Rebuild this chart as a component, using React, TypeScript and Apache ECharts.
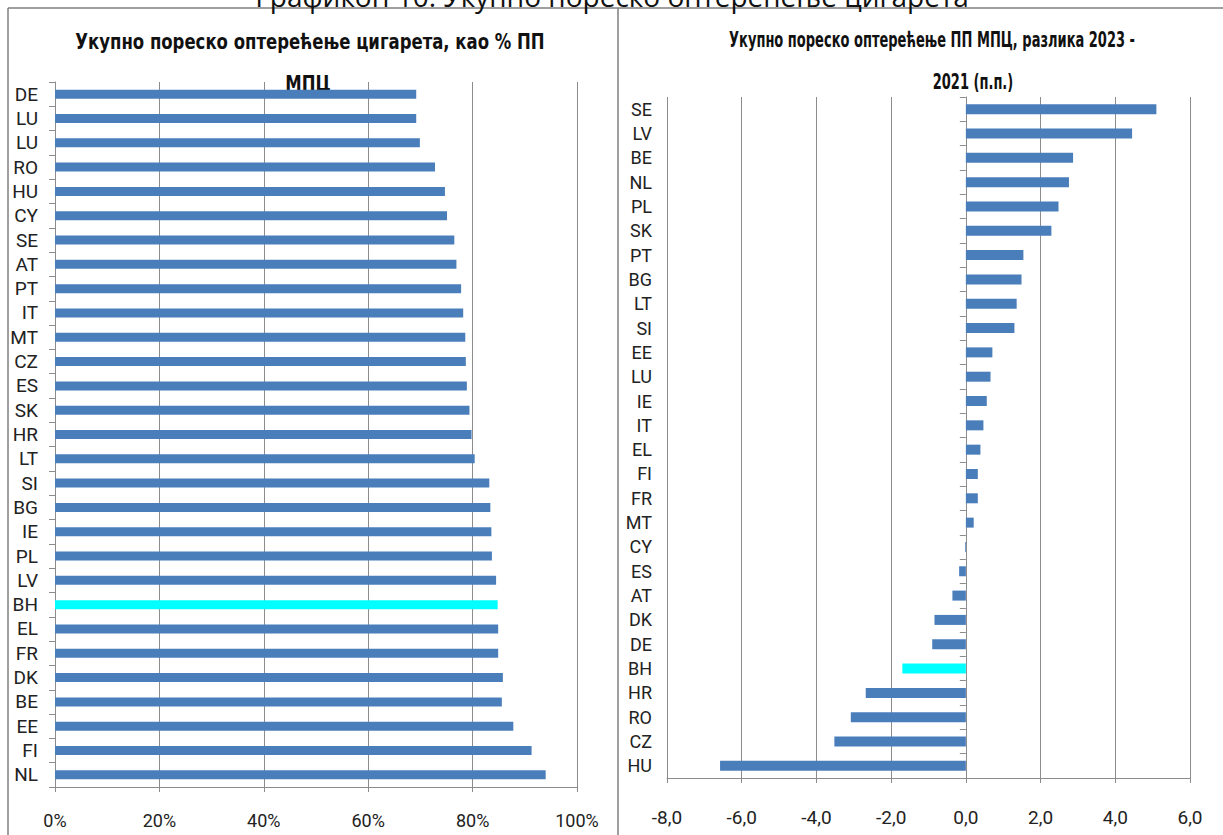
import React, { useEffect, useRef } from 'react';
import * as echarts from 'echarts';

const pageCaption = 'Графикон 10: Укупно пореско оптерећење цигарета';
const leftTitleLines = ['Укупно пореско оптерећење цигарета, као % ПП', 'МПЦ'];
const rightTitleLines = ['Укупно пореско оптерећење ПП МПЦ, разлика 2023 -', '2021 (п.п.)'];

const leftCategories = ['DE', 'LU', 'LU', 'RO', 'HU', 'CY', 'SE', 'AT', 'PT', 'IT', 'MT', 'CZ', 'ES', 'SK', 'HR', 'LT', 'SI', 'BG', 'IE', 'PL', 'LV', 'BH', 'EL', 'FR', 'DK', 'BE', 'EE', 'FI', 'NL'];
const leftValues = [69.2, 69.2, 69.9, 72.8, 74.7, 75.1, 76.5, 76.9, 77.8, 78.2, 78.6, 78.7, 78.9, 79.4, 79.8, 80.4, 83.2, 83.4, 83.6, 83.7, 84.5, 84.8, 84.9, 84.9, 85.8, 85.6, 87.8, 91.3, 94.0];

const rightCategories = ['SE', 'LV', 'BE', 'NL', 'PL', 'SK', 'PT', 'BG', 'LT', 'SI', 'EE', 'LU', 'IE', 'IT', 'EL', 'FI', 'FR', 'MT', 'CY', 'ES', 'AT', 'DK', 'DE', 'BH', 'HR', 'RO', 'CZ', 'HU'];
const rightValues = [5.10, 4.45, 2.87, 2.76, 2.48, 2.29, 1.54, 1.49, 1.36, 1.30, 0.71, 0.66, 0.56, 0.47, 0.39, 0.32, 0.32, 0.21, -0.02, -0.18, -0.36, -0.84, -0.90, -1.70, -2.68, -3.08, -3.52, -6.58];

const leftTickLabels = ['0%', '20%', '40%', '60%', '80%', '100%'];
const rightTickLabels = ['-8,0', '-6,0', '-4,0', '-2,0', '0,0', '2,0', '4,0', '6,0'];

const highlightCategory = 'BH';

const LABEL_FONT = 'Roboto, "Liberation Sans", sans-serif';
const TITLE_FONT = '"DejaVu Sans", sans-serif';
const BLUE = '#4a7ebb';
const CYAN = '#00ffff';
const GRID_COLOR = '#8c8c8c';
const BORDER_COLOR = '#7f7f7f';

function buildOption(): echarts.EChartsOption {
  const colorFor = (cat: string) => (cat === highlightCategory ? CYAN : BLUE);
  const titleText = (text: string, x: number, y: number, size: number, scaleX: number) => ({
    type: 'text',
    x,
    y,
    scaleX,
    style: {
      text,
      font: `bold ${size}px ${TITLE_FONT}`,
      fill: '#111',
      textAlign: 'center',
      textVerticalAlign: 'middle',
    },
  });
  return {
    animation: false,
    backgroundColor: '#ffffff',
    grid: [
      { left: 55, top: 82, width: 522, height: 705, containLabel: false },
      { left: 667, top: 97, width: 523, height: 681, containLabel: false },
    ],
    xAxis: [
      {
        gridIndex: 0,
        type: 'value',
        min: 0,
        max: 100,
        interval: 20,
        axisLine: { show: true, lineStyle: { color: GRID_COLOR, width: 1 } },
        axisTick: { show: true, length: 5, lineStyle: { color: GRID_COLOR } },
        splitLine: { show: true, lineStyle: { color: GRID_COLOR, width: 1 } },
        axisLabel: {
          fontSize: 18,
          fontFamily: LABEL_FONT,
          color: '#222',
          margin: 24,
          formatter: (v: number) => leftTickLabels[Math.round(v / 20)] ?? '',
        },
      },
      {
        gridIndex: 1,
        type: 'value',
        min: -8,
        max: 6,
        interval: 2,
        axisLine: { show: true, onZero: false, lineStyle: { color: GRID_COLOR, width: 1 } },
        axisTick: { show: true, length: 5, lineStyle: { color: GRID_COLOR } },
        splitLine: { show: true, lineStyle: { color: GRID_COLOR, width: 1 } },
        axisLabel: {
          fontSize: 19,
          fontFamily: LABEL_FONT,
          color: '#222',
          margin: 30,
          formatter: (v: number) => rightTickLabels[Math.round((v + 8) / 2)] ?? '',
        },
      },
    ],
    yAxis: [
      {
        gridIndex: 0,
        type: 'category',
        data: leftCategories,
        inverse: true,
        axisLine: { show: true, onZero: false, lineStyle: { color: GRID_COLOR, width: 1 } },
        axisTick: { show: true, length: 6, lineStyle: { color: GRID_COLOR } },
        axisLabel: { interval: 0, fontSize: 19, fontFamily: LABEL_FONT, color: '#222', margin: 17 },
      },
      {
        gridIndex: 1,
        type: 'category',
        data: rightCategories,
        inverse: true,
        position: 'left',
        axisLine: { show: false, onZero: false },
        axisTick: { show: false },
        axisLabel: { interval: 0, fontSize: 18, fontFamily: LABEL_FONT, color: '#222', margin: 15 },
      },
      {
        gridIndex: 1,
        type: 'category',
        data: rightCategories,
        inverse: true,
        position: 'left',
        axisLine: { show: true, onZero: true, lineStyle: { color: GRID_COLOR, width: 1 } },
        axisTick: { show: true, length: 6, lineStyle: { color: GRID_COLOR } },
        axisLabel: { show: false },
      },
    ],
    series: [
      {
        type: 'bar',
        xAxisIndex: 0,
        yAxisIndex: 0,
        barWidth: 9,
        data: leftValues.map((v, i) => ({ value: v, itemStyle: { color: colorFor(leftCategories[i]) } })),
      },
      {
        type: 'bar',
        xAxisIndex: 1,
        yAxisIndex: 1,
        barWidth: 10,
        data: rightValues.map((v, i) => ({ value: v, itemStyle: { color: colorFor(rightCategories[i]) } })),
      },
    ],
    graphic: [
      { type: 'line', shape: { x1: 8, y1: 8, x2: 1223, y2: 8 }, style: { stroke: BORDER_COLOR, lineWidth: 1.5 } },
      { type: 'line', shape: { x1: 8, y1: 8, x2: 8, y2: 835 }, style: { stroke: BORDER_COLOR, lineWidth: 1.5 } },
      { type: 'line', shape: { x1: 618, y1: 8, x2: 618, y2: 835 }, style: { stroke: BORDER_COLOR, lineWidth: 1.5 } },
      {
        type: 'text',
        x: 612,
        y: -4,
        style: {
          text: pageCaption,
          font: '28px "Open Sans", "Noto Sans", sans-serif',
          fill: '#111',
          textAlign: 'center',
          textVerticalAlign: 'middle',
        },
      },
      titleText(leftTitleLines[0], 310, 41, 21, 0.786),
      titleText(leftTitleLines[1], 308, 83, 21, 0.786),
      titleText(rightTitleLines[0], 932, 40, 21, 0.62),
      titleText(rightTitleLines[1], 973, 82, 21, 0.62),
    ],
  } as any;
}

export default function App() {
  const ref = useRef<HTMLDivElement>(null);
  useEffect(() => {
    if (!ref.current) return;
    const chart = echarts.init(ref.current, null, { renderer: 'svg' });
    chart.setOption(buildOption());
    return () => {
      chart.dispose();
    };
  }, []);
  return (
    <div
      ref={ref}
      style={{ position: 'fixed', left: 0, top: 0, width: 1223, height: 835, background: '#ffffff' }}
    />
  );
}
